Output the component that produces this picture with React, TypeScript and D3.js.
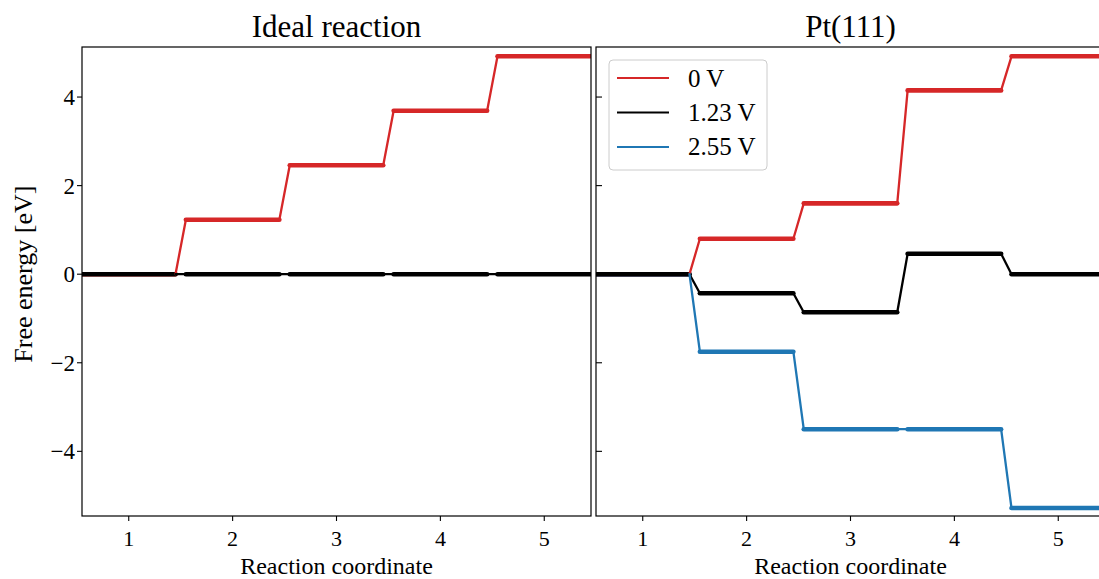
import React from 'react';
import * as d3 from 'd3';

// reaction steps (level positions on the x axis)
const steps = [1, 2, 3, 4, 5];
const xTicks = [1, 2, 3, 4, 5];
const yTicks = [-4, -2, 0, 2, 4];

// free energy levels [eV]
const idealAt0V = [0, 1.23, 2.46, 3.69, 4.92];
const idealAt123V = [0, 0, 0, 0, 0];
const ptAt0V = [0, 0.8, 1.6, 4.15, 4.92];
const ptAt123V = [0, -0.43, -0.86, 0.46, 0];
const ptAt255V = [0, -1.75, -3.5, -3.5, -5.28];

const legendLabels = ['0 V', '1.23 V', '2.55 V'];
const COLORS = ['#d62728', '#000000', '#1f77b4'];

const FONT = '"Liberation Serif", "DejaVu Serif", serif';
const HALF = 0.45; // half width of a level

interface Series {
  values: number[];
  color: string;
  z: number;
}

const W = 1099;
const H = 579;
const top = 47;
const bottom = 516;
const panelW = 509;

const y = d3.scaleLinear().domain([-5.46, 5.13]).range([bottom, top]);

function Panel({ x0, title, series, yLabels, id }: { x0: number; title: string; series: Series[]; yLabels: boolean; id: string }) {
  const x = d3.scaleLinear().domain([0.55, 5.45]).range([x0, x0 + panelW]);
  const line = d3.line<[number, number]>().x(d => x(d[0])).y(d => y(d[1]));
  const ordered = [...series].sort((a, b) => a.z - b.z);

  return (
    <g>
      <defs>
        <clipPath id={id}>
          <rect x={x0} y={top} width={panelW} height={bottom - top} />
        </clipPath>
      </defs>
      <g clipPath={`url(#${id})`}>
        {/* thick levels */}
        {ordered.map((s, si) => s.values.map((v, i) => (
          <path key={`l${si}-${i}`} d={line([[steps[i] - HALF, v], [steps[i] + HALF, v]]) || ''}
            stroke={s.color} strokeWidth={4.6} fill="none" strokeLinecap="round" />
        )))}
        {/* thin connectors */}
        {series.map((s, si) => s.values.slice(0, -1).map((v, i) => (
          <path key={`c${si}-${i}`} d={line([[steps[i] + HALF, v], [steps[i + 1] - HALF, s.values[i + 1]]]) || ''}
            stroke={s.color} strokeWidth={2.3} fill="none" strokeLinecap="round" />
        )))}
      </g>
      {/* frame */}
      <rect x={x0} y={top} width={panelW} height={bottom - top} fill="none" stroke="#000" strokeWidth={1.2} />
      {/* x ticks */}
      {xTicks.map(t => (
        <g key={`xt${t}`}>
          <line x1={x(t)} x2={x(t)} y1={bottom} y2={bottom + 5} stroke="#000" strokeWidth={1.1} />
          <text x={x(t)} y={546} textAnchor="middle" fontSize={22} fontFamily={FONT}>{t}</text>
        </g>
      ))}
      {/* y ticks */}
      {yTicks.map(t => (
        <g key={`yt${t}`}>
          {yLabels ? (
            <>
              <line x1={x0 - 5} x2={x0} y1={y(t)} y2={y(t)} stroke="#000" strokeWidth={1.1} />
              <text x={x0 - 7} y={y(t) + 8} textAnchor="end" fontSize={23} fontFamily={FONT}>
                {t < 0 ? `\u2212${-t}` : `${t}`}
              </text>
            </>
          ) : (
            <line x1={x0} x2={x0 + 6} y1={y(t)} y2={y(t)} stroke="#000" strokeWidth={1.1} />
          )}
        </g>
      ))}
      <text x={x0 + panelW / 2} y={37} textAnchor="middle" fontSize={31} fontFamily={FONT}>{title}</text>
      <text x={x0 + panelW / 2} y={574} textAnchor="middle" fontSize={24} fontFamily={FONT}>Reaction coordinate</text>
    </g>
  );
}

export default function App() {
  const idealSeries: Series[] = [
    { values: idealAt0V, color: COLORS[0], z: 0 },
    { values: idealAt123V, color: COLORS[1], z: 2 },
  ];
  const ptSeries: Series[] = [
    { values: ptAt0V, color: COLORS[0], z: 0 },
    { values: ptAt123V, color: COLORS[1], z: 2 },
    { values: ptAt255V, color: COLORS[2], z: 1 },
  ];

  const legendX = 609;
  const legendY = 60;

  return (
    <svg width={W} height={H} style={{ position: 'absolute', left: 0, top: 0, background: '#fff' }}>
      <rect width={W} height={H} fill="#fff" />
      <Panel x0={82} title="Ideal reaction" series={idealSeries} yLabels={true} id="clipL" />
      <Panel x0={596} title="Pt(111)" series={ptSeries} yLabels={false} id="clipR" />
      <text transform={`translate(32,${y(0)}) rotate(-90)`} textAnchor="middle" fontSize={26} fontFamily={FONT}>
        Free energy [eV]
      </text>
      {/* legend */}
      <g>
        <rect x={legendX} y={legendY} width={158} height={110} rx={4} fill="#fff" fillOpacity={0.8} stroke="#cccccc" strokeWidth={1} />
        {legendLabels.map((lab, i) => (
          <g key={lab}>
            <line x1={617} x2={669} y1={78 + i * 34.5} y2={78 + i * 34.5} stroke={COLORS[i]} strokeWidth={2.2} />
            <text x={688} y={87 + i * 34} fontSize={25} fontFamily={FONT}>{lab}</text>
          </g>
        ))}
      </g>
    </svg>
  );
}
